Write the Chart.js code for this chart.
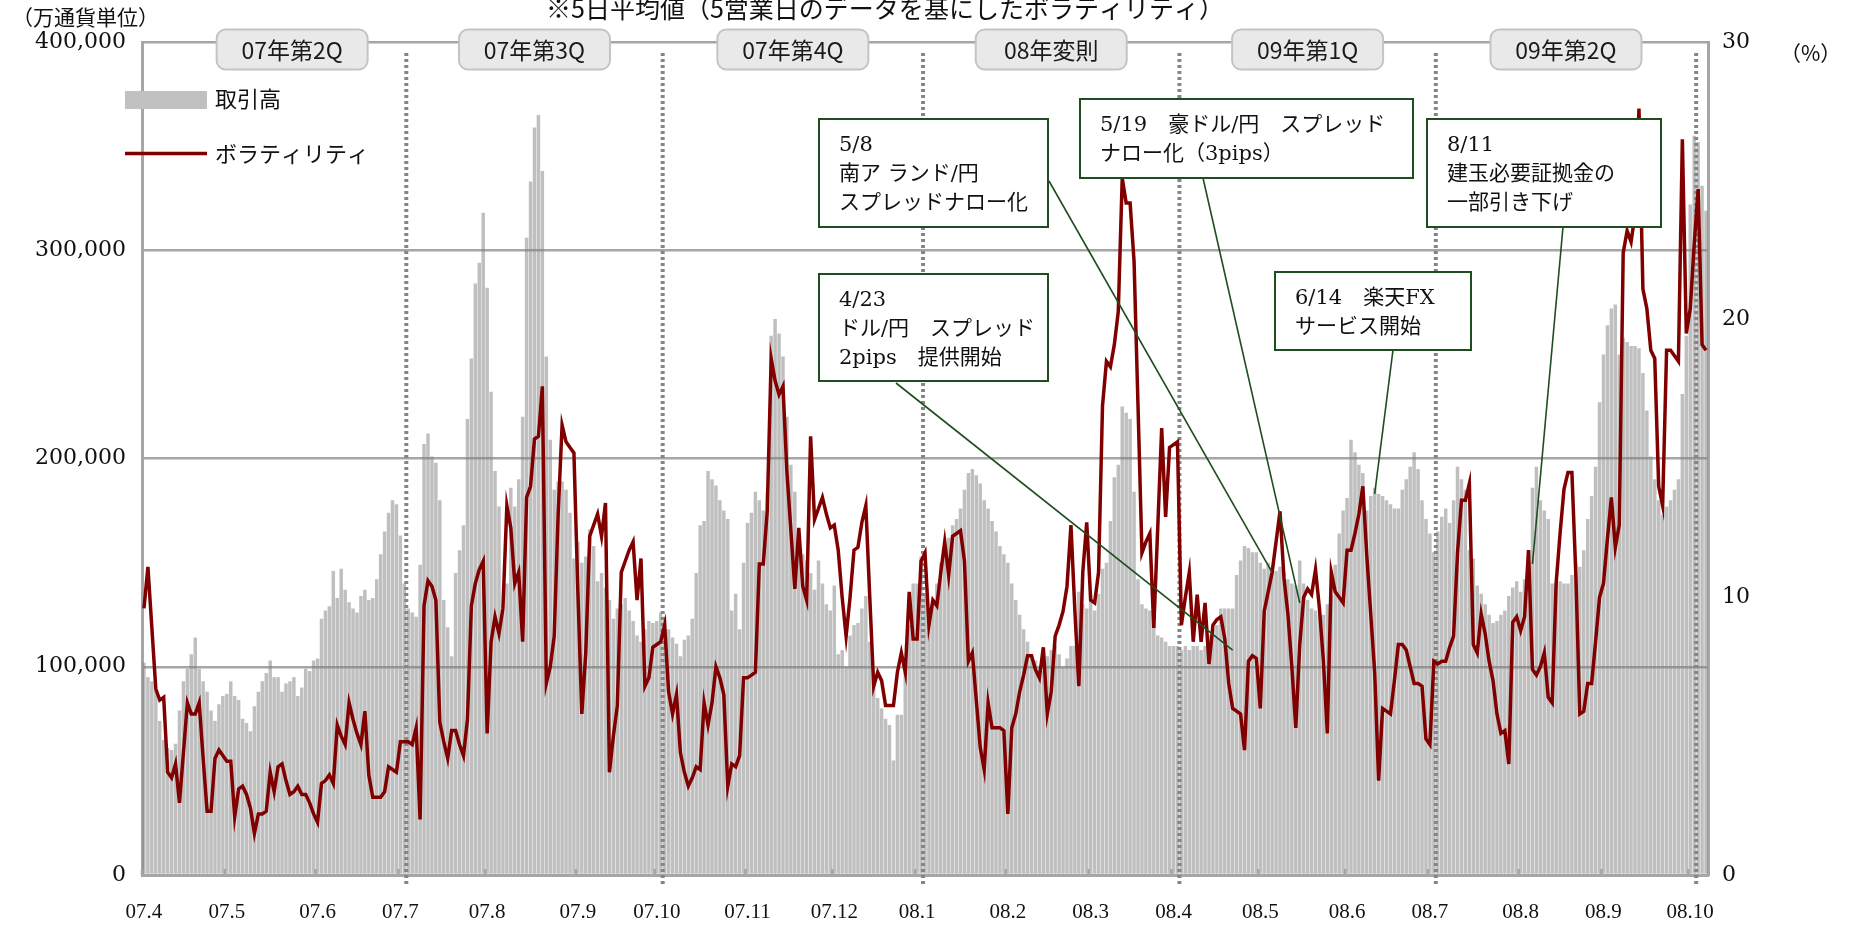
<!DOCTYPE html>
<html>
<head>
<meta charset="utf-8">
<script src="https://cdn.jsdelivr.net/npm/chart.js@4.4.1/dist/chart.umd.min.js"></script>
<style>
  html, body { margin: 0; padding: 0; background: #fff; }
  canvas { display: block; }
</style>
</head>
<body>
<canvas id="myChart" width="1852" height="925"></canvas>
<script>
const ctx = document.getElementById('myChart');

// x axis: one label per month, one bar per business day
const months = ['07.4', '07.5', '07.6', '07.7', '07.8', '07.9', '07.10', '07.11', '07.12',
  '08.1', '08.2', '08.3', '08.4', '08.5', '08.6', '08.7', '08.8', '08.9', '08.10'];

// 取引高 (万通貨単位), 5-day average, per month
const vol0704 = [102000, 95000, 93000, 90000, 74000, 65000, 61000, 60000, 63000, 79000, 93000, 99000, 106000, 114000, 99000, 93000, 88000, 79000, 74000, 82000, 86000];
const vol0705 = [87000, 93000, 86000, 84000, 75000, 73000, 69000, 81000, 88000, 93000, 97000, 103000, 95000, 95000, 88000, 92000, 93000, 95000, 86000, 90000, 99000, 98000, 103000];
const vol0706 = [104000, 123000, 127000, 129000, 146000, 133000, 147000, 137000, 131000, 128000, 126000, 134000, 137000, 132000, 133000, 142000, 154000, 165000, 174000, 180000, 178000];
const vol0707 = [163000, 140000, 128000, 126000, 124000, 149000, 207000, 212000, 201000, 198000, 180000, 132000, 119000, 105000, 145000, 156000, 168000, 219000, 248000, 284000, 294000, 318000];
const vol0708 = [282000, 232000, 194000, 177000, 127000, 140000, 186000, 177000, 190000, 220000, 306000, 333000, 359000, 365000, 338000, 249000, 209000, 185000, 189000, 189000, 185000, 174000, 152000];
const vol0709 = [160000, 150000, 153000, 166000, 158000, 141000, 145000, 138000, 132000, 123000, 128000, 130000, 133000, 127000, 122000, 115000, 112000, 118000, 122000, 121000];
const vol0710 = [122000, 126000, 124000, 118000, 114000, 111000, 105000, 113000, 115000, 123000, 145000, 168000, 170000, 194000, 190000, 187000, 180000, 175000, 171000, 127000, 135000, 118000, 150000];
const vol0711 = [169000, 174000, 184000, 180000, 175000, 184000, 259000, 267000, 260000, 249000, 220000, 197000, 184000, 165000, 154000, 151000, 145000, 137000, 151000, 140000, 130000, 127000];
const vol0712 = [139000, 106000, 108000, 100000, 115000, 120000, 121000, 128000, 134000, 112000, 91000, 85000, 80000, 75000, 72000, 55000, 77000, 77000, 100000, 120000, 140000];
const vol0801 = [140000, 153000, 135000, 125000, 130000, 140000, 150000, 158000, 162000, 168000, 171000, 176000, 185000, 193000, 195000, 192000, 188000, 180000, 176000, 170000, 165000, 158000, 154000];
const vol0802 = [150000, 140000, 132000, 125000, 118000, 112000, 106000, 103000, 100000, 98000, 105000, 108000, 110000, 106000, 100000, 104000, 110000, 110000, 136000, 130000, 128000];
const vol0803 = [135000, 127000, 135000, 147000, 150000, 170000, 191000, 197000, 225000, 222000, 219000, 184000, 142000, 130000, 128000, 127000, 127000, 115000, 114000, 112000, 110000];
const vol0804 = [110000, 110000, 108000, 110000, 108000, 110000, 110000, 108000, 110000, 115000, 118000, 120000, 128000, 128000, 128000, 128000, 144000, 151000, 158000, 157000, 155000, 155000];
const vol0805 = [150000, 147000, 150000, 148000, 146000, 148000, 145000, 142000, 140000, 139000, 151000, 140000, 132000, 128000, 127000, 125000, 125000, 130000, 134000, 149000, 164000, 175000];
const vol0806 = [181000, 209000, 203000, 197000, 193000, 175000, 182000, 186000, 183000, 182000, 180000, 178000, 176000, 176000, 185000, 190000, 196000, 203000, 195000, 180000, 171000];
const vol0807 = [164000, 155000, 165000, 172000, 176000, 169000, 180000, 196000, 190000, 185000, 156000, 152000, 139000, 135000, 130000, 125000, 121000, 122000, 125000, 127000, 134000, 138000, 141000];
const vol0808 = [136000, 142000, 156000, 186000, 196000, 180000, 175000, 171000, 140000, 140000, 141000, 140000, 140000, 144000, 150000, 148000, 156000, 171000, 182000, 196000, 227000];
const vol0809 = [250000, 264000, 272000, 274000, 250000, 258000, 256000, 254000, 254000, 253000, 241000, 223000, 201000, 190000, 180000, 173000, 177000, 180000, 185000, 190000, 231000, 259000];
const vol0810 = [322000, 355000, 352000, 331000, 319000];

// ボラティリティ (%), per month
const volat0704 = [9.6, 11.1, 8.9, 6.7, 6.3, 6.4, 3.7, 3.5, 4.0, 2.6, 4.4, 6.2, 5.8, 5.8, 6.2, 4.2, 2.3, 2.3, 4.2, 4.5, 4.3];
const volat0705 = [4.1, 4.1, 2.1, 3.1, 3.2, 2.9, 2.4, 1.5, 2.2, 2.2, 2.3, 3.7, 3.0, 3.9, 4.0, 3.4, 2.9, 3.0, 3.2, 2.9, 2.9, 2.6, 2.2];
const volat0706 = [1.9, 3.3, 3.4, 3.6, 3.3, 5.4, 5.0, 4.7, 6.2, 5.6, 5.1, 4.7, 5.9, 3.6, 2.8, 2.8, 2.8, 3.0, 3.9, 3.8, 3.7];
const volat0707 = [4.8, 4.8, 4.8, 4.7, 5.3, 2.0, 9.7, 10.6, 10.4, 9.9, 5.5, 4.8, 4.2, 5.2, 5.2, 4.7, 4.3, 5.6, 9.7, 10.5, 11.0, 11.3];
const volat0708 = [5.1, 8.4, 9.3, 8.7, 9.6, 13.3, 12.5, 10.5, 10.9, 8.4, 13.6, 14.0, 15.7, 15.8, 17.6, 6.9, 7.5, 8.6, 13.0, 16.2, 15.6, 15.4, 15.2];
const volat0709 = [10.2, 5.8, 8.0, 12.2, 12.6, 13.0, 12.2, 13.4, 3.7, 5.0, 6.1, 10.9, 11.3, 11.7, 12.0, 9.9, 11.4, 6.8, 7.1, 8.2];
const volat0710 = [8.3, 8.4, 9.0, 6.6, 5.8, 6.5, 4.4, 3.7, 3.2, 3.5, 3.9, 3.8, 6.2, 5.4, 6.2, 7.5, 7.1, 6.5, 3.2, 4.0, 3.9, 4.3, 7.1];
const volat0711 = [7.1, 7.2, 7.3, 11.2, 11.2, 13.1, 18.6, 17.8, 17.3, 17.6, 14.5, 12.4, 10.3, 12.5, 10.4, 9.9, 15.8, 12.8, 13.2, 13.6, 13.0, 12.5];
const volat0712 = [12.6, 11.7, 10.0, 8.6, 10.0, 11.7, 11.8, 12.7, 13.3, 10.0, 6.8, 7.3, 7.0, 6.1, 6.1, 6.1, 7.3, 8.0, 7.3, 10.2, 8.5];
const volat0801 = [8.5, 11.3, 11.6, 9.0, 9.9, 9.7, 10.9, 12.0, 10.8, 12.2, 12.3, 12.4, 11.3, 7.7, 8.0, 6.3, 4.6, 3.8, 6.2, 5.3, 5.3, 5.3, 5.2];
const volat0802 = [2.2, 5.3, 5.8, 6.6, 7.2, 7.9, 7.9, 7.4, 7.1, 8.2, 5.8, 6.6, 8.6, 9.0, 9.5, 10.4, 12.6, 9.5, 6.8, 10.9, 12.7];
const volat0803 = [9.9, 9.8, 10.9, 16.9, 18.5, 18.3, 19.1, 20.3, 25.1, 24.2, 24.2, 22.1, 16.9, 11.6, 12.0, 12.3, 8.9, 12.5, 16.1, 12.9, 15.4];
const volat0804 = [15.5, 15.6, 9.0, 10.0, 10.9, 8.4, 10.1, 8.4, 9.8, 7.6, 9.0, 9.2, 9.3, 8.5, 6.9, 6.0, 5.9, 5.8, 4.5, 7.7, 7.9, 7.8];
const volat0805 = [6.0, 9.5, 10.2, 10.9, 12.0, 13.1, 10.7, 9.4, 7.5, 5.3, 8.3, 10.0, 10.3, 10.1, 11.0, 9.6, 7.7, 5.1, 10.9, 10.2, 10.0, 9.8];
const volat0806 = [11.7, 11.7, 12.3, 13.0, 14.0, 11.5, 9.4, 7.3, 3.4, 6.0, 5.9, 5.8, 7.0, 8.3, 8.3, 8.1, 7.5, 6.9, 6.9, 6.8, 4.9];
const volat0807 = [4.7, 7.7, 7.6, 7.7, 7.7, 8.2, 8.6, 11.6, 13.5, 13.5, 14.1, 8.3, 8.0, 9.4, 8.7, 7.7, 7.0, 5.8, 5.1, 5.2, 4.0, 9.1, 9.3];
const volat0808 = [8.8, 9.3, 11.7, 7.4, 7.2, 7.5, 8.0, 6.4, 6.2, 10.5, 12.3, 13.9, 14.5, 14.5, 10.8, 5.8, 5.9, 6.9, 6.9, 8.4, 10.0];
const volat0809 = [10.5, 12.1, 13.6, 11.8, 12.6, 22.4, 23.2, 22.8, 23.8, 27.6, 21.1, 20.4, 18.9, 18.6, 14.0, 13.3, 18.9, 18.9, 18.7, 18.5, 26.5, 19.5];
const volat0810 = [20.4, 22.7, 24.7, 19.1, 18.9];

// quarter bands along the top
const quarterNames = ['07年第2Q', '07年第3Q', '07年第4Q', '08年変則', '09年第1Q', '09年第2Q'];
const quarterBounds = ['07.4', '07.7', '07.10', '08.1', '08.4', '08.7', '08.10'];

const volByMonth = [vol0704, vol0705, vol0706, vol0707, vol0708, vol0709, vol0710, vol0711, vol0712,
  vol0801, vol0802, vol0803, vol0804, vol0805, vol0806, vol0807, vol0808, vol0809, vol0810];
const volatByMonth = [volat0704, volat0705, volat0706, volat0707, volat0708, volat0709, volat0710, volat0711, volat0712,
  volat0801, volat0802, volat0803, volat0804, volat0805, volat0806, volat0807, volat0808, volat0809, volat0810];

const labels = [];
const volume = [];
const volatility = [];
const monthStart = {};
months.forEach((m, k) => {
    monthStart[m] = labels.length;
    volByMonth[k].forEach((v, j) => {
        labels.push(j === 0 ? m : '');
        volume.push(v);
    });
    volatility.push(...volatByMonth[k]);
});

const GRAY = '#a6a6a6';
const GREEN = '#1f4d1f';
const JP = '"Noto Sans CJK JP", sans-serif';
const MIX = '"DejaVu Serif", "Noto Sans CJK JP", serif';

// callout boxes: [x, y, w, h], leader start, leader end as [bar index, value, axis]
const notes = [
    { box: [819, 119, 229, 108], lines: ['5/8', '南ア ランド/円', 'スプレッドナロー化'], from: [1049, 181], to: [286, 10.9, 'y1'] },
    { box: [819, 274, 229, 107], lines: ['4/23', 'ドル/円　スプレッド', '2pips　提供開始'], from: [896, 383], to: [276, 8.1, 'y1'] },
    { box: [1080, 99, 333, 79], lines: ['5/19　豪ドル/円　スプレッド', 'ナロー化（3pips）'], from: [1203, 178], to: [293, 9.8, 'y1'] },
    { box: [1275, 272, 196, 78], lines: ['6/14　楽天FX', 'サービス開始'], from: [1393, 350], to: [312, 183000, 'y'] },
    { box: [1427, 119, 234, 108], lines: ['8/11', '建玉必要証拠金の', '一部引き下げ'], from: [1563, 227], to: [352, 11.2, 'y1'] }
];

const decor = {
    id: 'decor',
    beforeDatasetDraw(chart, args) {
        if (args.index !== 1) return;
        const c = chart.ctx, x = chart.scales.x, a = chart.chartArea;
        const barW = x.getPixelForValue(1) - x.getPixelForValue(0);
        c.save();
        // month tick marks
        c.strokeStyle = GRAY;
        c.lineWidth = 2.5;
        months.forEach(m => {
            const px = x.getPixelForValue(monthStart[m]) - barW / 2;
            c.beginPath(); c.moveTo(px, a.bottom - 6); c.lineTo(px, a.bottom); c.stroke();
        });
        // quarter dotted lines
        c.strokeStyle = '#858585';
        c.lineWidth = 4;
        c.setLineDash([3, 3]);
        quarterBounds.slice(1).forEach(m => {
            const px = x.getPixelForValue(monthStart[m] + 1.5);
            c.beginPath(); c.moveTo(px, 53); c.lineTo(px, a.bottom + 12); c.stroke();
        });
        c.restore();
    },
    afterDraw(chart) {
        const c = chart.ctx, x = chart.scales.x, a = chart.chartArea;
        c.save();
        c.textBaseline = 'middle';
        c.fillStyle = '#111';

        // title and units
        c.font = '25px ' + JP;
        c.textAlign = 'center';
        c.fillText('※5日平均値（5営業日のデータを基にしたボラティリティ）', 885, 8);
        c.font = '21px ' + JP;
        c.textAlign = 'left';
        c.fillText('（万通貨単位）', 12, 17);
        c.fillText('（%）', 1780, 53);

        // quarter boxes (the first label sits a little right of its band centre, as in the source)
        const bx = quarterBounds.map((m, k) => k === 0 ? a.left + 36 : x.getPixelForValue(monthStart[m] + 1.5));
        quarterNames.forEach((q, k) => {
            const cx = (bx[k] + bx[k + 1]) / 2;
            c.beginPath();
            c.roundRect(cx - 75.5, 29.5, 151, 40, 9);
            c.fillStyle = '#e9e9e9';
            c.fill();
            c.lineWidth = 2;
            c.strokeStyle = '#c4c4c4';
            c.stroke();
            c.fillStyle = '#1a1a1a';
            c.font = '23px ' + JP;
            c.textAlign = 'center';
            c.fillText(q, cx, 50);
        });

        // legend
        c.textAlign = 'left';
        c.fillStyle = '#c0c0c0';
        c.fillRect(125, 91, 82, 18);
        c.strokeStyle = '#800000';
        c.lineWidth = 3.5;
        c.beginPath(); c.moveTo(125, 153.5); c.lineTo(207, 153.5); c.stroke();
        c.fillStyle = '#111';
        c.font = '22px ' + JP;
        c.fillText('取引高', 215, 99);
        c.fillText('ボラティリティ', 215, 154);

        // callouts
        notes.forEach(n => {
            const [bxl, byt, bw, bh] = n.box;
            const tx = x.getPixelForValue(n.to[0]);
            const ty = chart.scales[n.to[2]].getPixelForValue(n.to[1]);
            c.strokeStyle = GREEN;
            c.lineWidth = 1.6;
            c.beginPath(); c.moveTo(n.from[0], n.from[1]); c.lineTo(tx, ty); c.stroke();
            c.fillStyle = '#fff';
            c.fillRect(bxl, byt, bw, bh);
            c.lineWidth = 2;
            c.strokeRect(bxl, byt, bw, bh);
            c.fillStyle = '#111';
            c.font = '21px ' + MIX;
            n.lines.forEach((t, k) => c.fillText(t, bxl + 20, byt + 27 + k * 29));
        });
        c.restore();
    }
};

new Chart(ctx, {
    type: 'bar',
    data: {
        labels: labels,
        datasets: [{
            type: 'bar',
            label: '取引高',
            data: volume,
            backgroundColor: 'rgba(128,128,128,0.5)',
            barPercentage: 0.88,
            categoryPercentage: 1.0,
            yAxisID: 'y',
            order: 1
        }, {
            type: 'line',
            label: 'ボラティリティ',
            data: volatility,
            borderColor: '#800000',
            borderWidth: 3.5,
            pointRadius: 0,
            tension: 0,
            yAxisID: 'y1',
            order: 0
        }]
    },
    options: {
        responsive: false,
        animation: false,
        devicePixelRatio: 1,
        layout: { padding: { top: 42 } },
        plugins: { legend: { display: false }, tooltip: { enabled: false } },
        scales: {
            x: {
                grid: { display: false },
                border: { display: true, color: GRAY, width: 3 },
                ticks: {
                    autoSkip: false, maxRotation: 0, minRotation: 0, padding: 17,
                    color: '#111', font: { family: 'Liberation Serif', size: 21 },
                    callback: (v, i) => labels[i] || null
                },
                afterFit: s => { s.height = 50; }
            },
            y: {
                position: 'left',
                min: 0, max: 400000,
                grid: { color: GRAY, lineWidth: 2.5, drawTicks: false },
                border: { display: true, color: GRAY, width: 3 },
                ticks: {
                    stepSize: 100000, padding: 16, color: '#111',
                    font: { family: 'DejaVu Serif', size: 22 },
                    callback: v => v.toLocaleString('en-US')
                },
                afterFit: s => { s.width = 142; }
            },
            y1: {
                position: 'right',
                min: 0, max: 30,
                grid: { display: false, drawTicks: false },
                border: { display: true, color: GRAY, width: 3 },
                ticks: {
                    stepSize: 10, padding: 14, color: '#111',
                    font: { family: 'DejaVu Serif', size: 22 }
                },
                afterFit: s => { s.width = 144; }
            }
        }
    },
    plugins: [decor]
});
</script>
</body>
</html>
